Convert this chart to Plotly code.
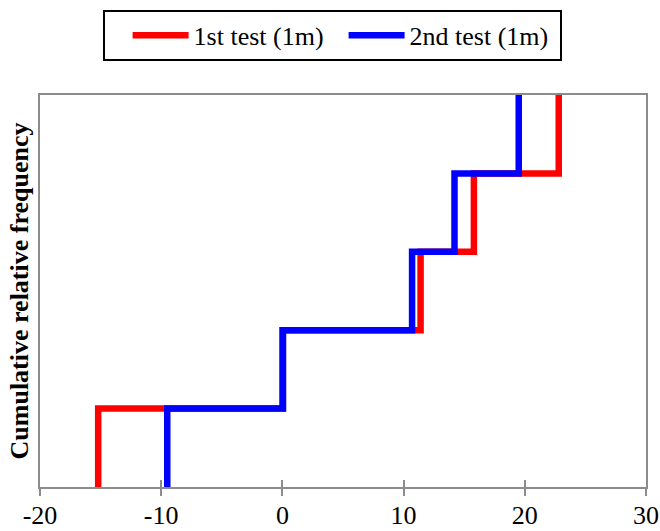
import plotly.graph_objects as go

# Sorted values for each test (cumulative step positions)
test1_values = [-15.2, 0.0, 11.4, 15.8, 22.8]
test2_values = [-9.5, 0.05, 10.7, 14.2, 19.5]
cum_freq = [0.2, 0.4, 0.6, 0.8, 1.0]
x_ticks = [-20, -10, 0, 10, 20, 30]

def step_xy(vals, freqs):
    xs = list(vals) + [vals[-1]]
    ys = [0.0] + list(freqs)
    return xs, ys

FONT = "Liberation Serif, Times New Roman, serif"
AXC = "#8c8c8c"
FS = 26

fig = go.Figure()
for vals, name, color in [(test1_values, "1st test (1m)", "#FF0000"),
                          (test2_values, "2nd test (1m)", "#0000FF")]:
    xs, ys = step_xy(vals, cum_freq)
    fig.add_trace(go.Scatter(x=xs, y=ys, mode="lines", name=name,
                             line=dict(color=color, width=6.5, shape="vh")))

# invisible trace to carry inside tick marks
fig.add_trace(go.Scatter(x=[x_ticks[0]], y=[None], xaxis="x2", showlegend=False,
                         hoverinfo="skip"))

fig.update_layout(
    width=660, height=531,
    margin=dict(l=40, r=14, t=95, b=44, autoexpand=False),
    paper_bgcolor="white", plot_bgcolor="white",
    font=dict(family=FONT, size=FS, color="black"),
    showlegend=True,
    legend=dict(orientation="h", x=0.482, xanchor="center", y=1.217, yanchor="top",
                bordercolor="black", borderwidth=2,
                font=dict(family=FONT, size=FS, color="black"),
                title=dict(text="&nbsp;&nbsp;", font=dict(size=FS)),
                itemwidth=56, entrywidth=145, tracegroupgap=0),
    xaxis=dict(range=[-20, 30], tickvals=x_ticks, ticktext=[str(v) for v in x_ticks],
               showgrid=False, zeroline=False, showline=True, linecolor=AXC, linewidth=2,
               mirror=True, ticks="outside", ticklen=7, tickwidth=1.5, tickcolor=AXC,
               ticklabelstandoff=-3, automargin=False,
               tickfont=dict(family=FONT, size=FS, color="black")),
    xaxis2=dict(range=[-20, 30], tickvals=x_ticks, overlaying="x", anchor="y",
                side="bottom", showticklabels=False, showgrid=False, zeroline=False,
                showline=False, ticks="inside", ticklen=7, tickwidth=1.5, tickcolor=AXC,
                automargin=False),
    yaxis=dict(range=[0, 1], showticklabels=False, showgrid=False, zeroline=False,
               showline=True, linecolor=AXC, linewidth=2, mirror=True, ticks="",
               automargin=False,
               title=dict(text="<b>Cumulative relative frequency</b>", standoff=2,
                          font=dict(family=FONT, size=FS, color="black"))),
)

fig.write_html("out.html", config={"displayModeBar": False},
               post_script="document.body.style.margin='0';document.body.style.overflow='hidden';")
